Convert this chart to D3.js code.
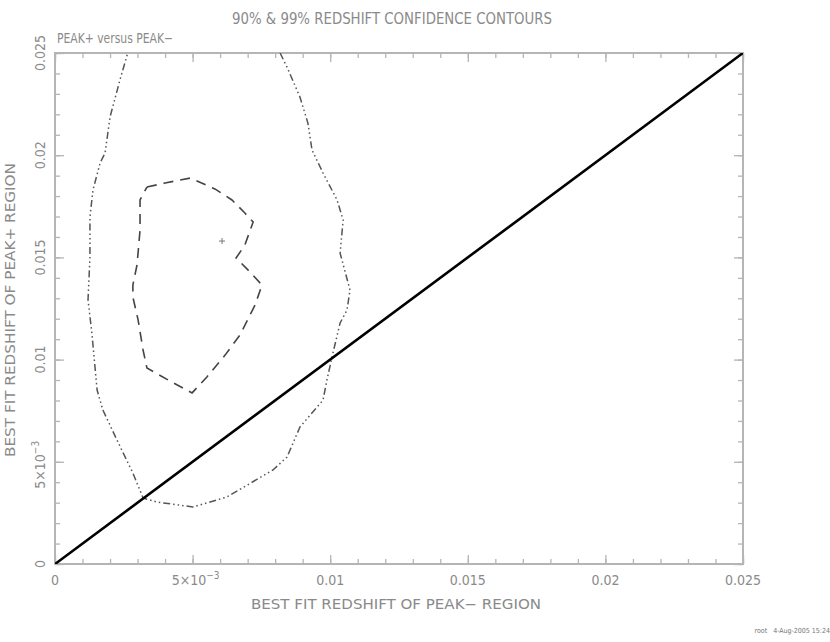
<!DOCTYPE html>
<html><head><meta charset="utf-8">
<script src="https://cdn.jsdelivr.net/npm/d3@7/dist/d3.min.js"></script>
<style>body{margin:0;background:#fff}svg{display:block}</style>
</head><body>
<svg id="c" width="830" height="642"></svg>
<script>
const titleText = "90% & 99% REDSHIFT CONFIDENCE CONTOURS";
const subtitleText = "PEAK+ versus PEAK\u2212";
const xLabel = "BEST FIT REDSHIFT OF PEAK\u2212 REGION";
const yLabel = "BEST FIT REDSHIFT OF PEAK+ REGION";
const footer = "root   4-Aug-2005 15:24";
const majorTicks = [0, 0.005, 0.01, 0.015, 0.02, 0.025];
const tickLabels = ["0", "5\u00d710^\u22123", "0.01", "0.015", "0.02", "0.025"];
const minorTicks = d3.range(0, 26).map(i => i / 1000);
const domain = [0, 0.025];
const bestFit = [0.00607, 0.0158];
// 90% contour (dashed), closed
const inner = [
 [0.00334,0.01844],[0.00400,0.01864],[0.00491,0.01888],[0.00581,0.01835],[0.00643,0.01781],
 [0.00690,0.01717],[0.00720,0.01673],[0.00690,0.01561],[0.00658,0.01497],[0.00709,0.01428],
 [0.00752,0.01365],[0.00727,0.01267],[0.00672,0.01120],[0.00618,0.01022],[0.00552,0.00915],
 [0.00498,0.00837],[0.00418,0.00895],[0.00334,0.00959],[0.00320,0.01047],[0.00302,0.01194],
 [0.00283,0.01306],[0.00283,0.01365],[0.00298,0.01463],[0.00309,0.01634],[0.00309,0.01781],
 [0.00334,0.01844]
];
// 99% contour (dash-dot-dot-dot), open at top
const outer = [
 [0.00818,0.0250],[0.00843,0.02431],[0.00890,0.02285],[0.00919,0.02157],[0.00934,0.02025],
 [0.00974,0.01913],[0.01025,0.01781],[0.01047,0.01683],[0.01036,0.01521],[0.01072,0.01340],
 [0.01061,0.01243],[0.01036,0.01179],[0.01010,0.01032],[0.00988,0.00900],[0.00974,0.00802],
 [0.00890,0.00670],[0.00843,0.00523],[0.00792,0.00460],[0.00625,0.00328],[0.00501,0.00279],
 [0.00371,0.00303],[0.00320,0.00323],[0.00283,0.00445],[0.00225,0.00607],[0.00174,0.00753],
 [0.00153,0.00851],[0.00134,0.01130],[0.00120,0.01292],[0.00127,0.01502],[0.00127,0.01698],
 [0.00138,0.01830],[0.00164,0.01962],[0.00182,0.02011],[0.00200,0.02187],[0.00236,0.02368],
 [0.00262,0.0249],[0.00265,0.0250]
];
const diag = [[0,0],[0.025,0.025]];

const svg = d3.select("#c");
const L = 55, R = 743, T = 53, B = 564;
const x = d3.scaleLinear().domain(domain).range([L, R]);
const y = d3.scaleLinear().domain(domain).range([B, T]);
const FONT = "'Liberation Sans Narrow','DejaVu Sans Condensed',sans-serif";
const TXT = "#8a8a8a", AX = "#b5b5b5";

function styleAxis(g){ g.select(".domain").remove(); g.selectAll("line").attr("stroke", AX).attr("stroke-width",1.3); }
// minor ticks
svg.append("g").attr("transform",`translate(0,${B})`).call(d3.axisBottom(x).tickValues(minorTicks).tickSize(-5).tickFormat("")).call(styleAxis);
svg.append("g").attr("transform",`translate(0,${T})`).call(d3.axisTop(x).tickValues(minorTicks).tickSize(-5).tickFormat("")).call(styleAxis);
svg.append("g").attr("transform",`translate(${L},0)`).call(d3.axisLeft(y).tickValues(minorTicks).tickSize(-5).tickFormat("")).call(styleAxis);
svg.append("g").attr("transform",`translate(${R},0)`).call(d3.axisRight(y).tickValues(minorTicks).tickSize(-5).tickFormat("")).call(styleAxis);
// major ticks
svg.append("g").attr("transform",`translate(0,${B})`).call(d3.axisBottom(x).tickValues(majorTicks).tickSize(-9).tickFormat("")).call(styleAxis);
svg.append("g").attr("transform",`translate(0,${T})`).call(d3.axisTop(x).tickValues(majorTicks).tickSize(-9).tickFormat("")).call(styleAxis);
svg.append("g").attr("transform",`translate(${L},0)`).call(d3.axisLeft(y).tickValues(majorTicks).tickSize(-9).tickFormat("")).call(styleAxis);
svg.append("g").attr("transform",`translate(${R},0)`).call(d3.axisRight(y).tickValues(majorTicks).tickSize(-9).tickFormat("")).call(styleAxis);
// frame
svg.append("rect").attr("x",L).attr("y",T).attr("width",R-L).attr("height",B-T)
  .attr("fill","none").attr("stroke",AX).attr("stroke-width",2);

function writeLabel(t, s){
  const parts = s.split("^");
  t.append("tspan").text(parts[0]);
  if (parts[1]) t.append("tspan").attr("dy",-6).attr("font-size",10).text(parts[1]);
}
// bottom tick labels
majorTicks.forEach((v,i)=>{
  const t = svg.append("text").attr("x", x(v)+(i===1?3:0)).attr("y",585).attr("text-anchor","middle")
    .attr("font-family",FONT).attr("font-size",14).attr("fill",TXT);
  writeLabel(t, tickLabels[i]);
});
// left tick labels (rotated)
majorTicks.forEach((v,i)=>{
  const t = svg.append("text").attr("transform",`translate(45,${y(v)+(i===1?3:0)}) rotate(-90)`).attr("text-anchor","middle")
    .attr("font-family",FONT).attr("font-size",14).attr("fill",TXT);
  writeLabel(t, tickLabels[i]);
});

// titles
svg.append("text").attr("x",392).attr("y",24).attr("text-anchor","middle").attr("font-family",FONT)
  .attr("font-size",15).attr("fill",TXT).attr("textLength",320).attr("lengthAdjust","spacingAndGlyphs").text(titleText);
svg.append("text").attr("x",57).attr("y",43).attr("font-family",FONT)
  .attr("font-size",14).attr("fill",TXT).attr("textLength",116).attr("lengthAdjust","spacingAndGlyphs").text(subtitleText);
svg.append("text").attr("x",396).attr("y",609).attr("text-anchor","middle").attr("font-family",FONT)
  .attr("font-size",14).attr("fill",TXT).attr("textLength",290).attr("lengthAdjust","spacingAndGlyphs").text(xLabel);
svg.append("text").attr("transform","translate(15,310) rotate(-90)").attr("text-anchor","middle").attr("font-family",FONT)
  .attr("font-size",14).attr("fill",TXT).attr("textLength",294).attr("lengthAdjust","spacingAndGlyphs").text(yLabel);
svg.append("text").attr("x",830).attr("y",633).attr("text-anchor","end").attr("font-family",FONT)
  .attr("font-size",7).attr("fill","#777").attr("xml:space","preserve").text(footer);

const line = d3.line().x(d=>x(d[0])).y(d=>y(d[1]));
const clip = svg.append("clipPath").attr("id","pc").append("rect").attr("x",L).attr("y",T).attr("width",R-L).attr("height",B-T);
const plot = svg.append("g").attr("clip-path","url(#pc)");
plot.append("path").datum(outer).attr("d",line).attr("fill","none").attr("stroke","#555")
  .attr("stroke-width",1.5).attr("stroke-dasharray","7,3,1.5,3,1.5,3,1.5,3");
plot.append("path").datum(inner).attr("d",line).attr("fill","none").attr("stroke","#444")
  .attr("stroke-width",1.6).attr("stroke-dasharray","10,7");
plot.append("path").datum(diag).attr("d",line).attr("fill","none").attr("stroke","#000").attr("stroke-width",2.6);
// best-fit marker
const bx = x(bestFit[0]), by = y(bestFit[1]);
svg.append("path").attr("d",`M${bx-3},${by}H${bx+3}M${bx},${by-3}V${by+3}`).attr("stroke","#777").attr("stroke-width",1);
</script>
</body></html>
